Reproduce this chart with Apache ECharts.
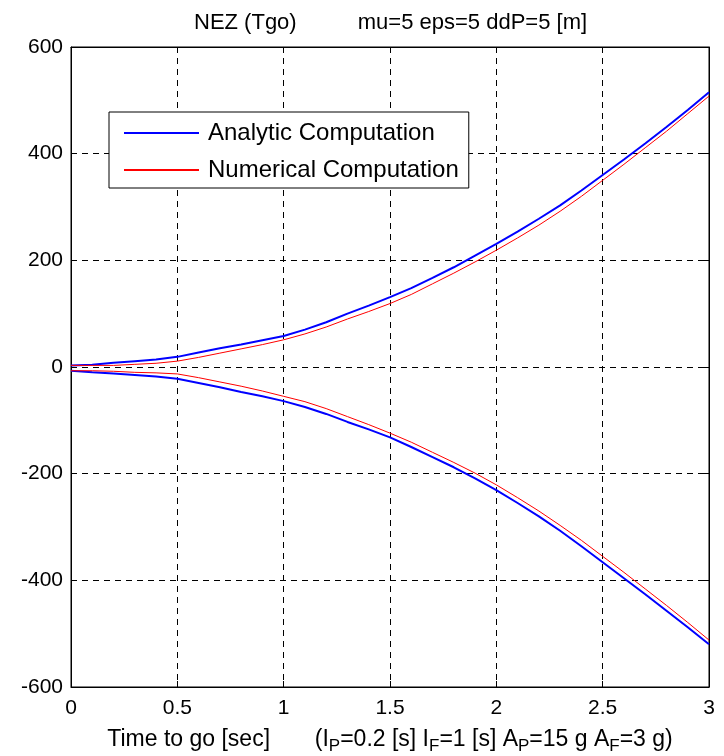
<!DOCTYPE html>
<html>
<head>
<meta charset="utf-8">
<script src="https://cdn.jsdelivr.net/npm/echarts@6/dist/echarts.min.js"></script>
<style>html,body{margin:0;padding:0;background:#fff}#c{width:724px;height:756px}</style>
</head>
<body>
<div id="c"></div>
<script>
// time to go [sec]
var tgo = [0,0.1,0.2,0.3,0.4,0.5,0.6,0.7,0.8,0.9,1.0,1.1,1.2,1.3,1.4,1.5,1.6,1.7,1.8,1.9,2.0,2.1,2.2,2.3,2.4,2.5,2.6,2.7,2.8,2.9,3.0];
// Analytic computation (upper / lower branch)
var analyticUpper = [3,4,8,11,14,19,27,35,42,50,58,70,84,100,115,131,148,167,187,209,231,254,278,303,331,360,389,419,450,482,515];
var analyticLower = [-7,-10,-12,-15,-18,-22,-30,-38,-47,-55,-64,-75,-88,-103,-117,-132,-150,-169,-188,-209,-231,-255,-280,-307,-336,-366,-396,-426,-457,-488,-520];
// Numerical computation (upper / lower branch)
var numericUpper = [3,3,3,5,7,11,18,26,34,42,51,62,75,90,104,119,136,156,176,197,219,242,266,292,320,350,380,411,442,475,508];
var numericLower = [-7,-7,-8,-10,-11,-13,-20,-28,-36,-45,-55,-65,-78,-93,-108,-124,-141,-160,-179,-199,-221,-245,-270,-297,-325,-355,-385,-416,-447,-479,-512];
var xTicks = {min:0, max:3, interval:0.5};
var yTicks = {min:-600, max:600, interval:200};

function pairs(xs, ys){ return xs.map(function(x,i){return [x, ys[i]];}); }

var FONT = '"Liberation Sans", Arial, sans-serif';
var chart = echarts.init(document.getElementById('c'), null, {renderer:'canvas'});
var dash = {color:'#000', width:1, type:[6,5]};
var lineSeries = function(name, data, color, width){
  return {name:name, type:'line', symbol:'none',
    data:data, lineStyle:{color:color, width:width}, itemStyle:{color:color}};
};
chart.setOption({
  animation:false,
  backgroundColor:'#fff',
  textStyle:{fontFamily:FONT},
  title:{
    text:'NEZ (Tgo)          mu=5 eps=5 ddP=5 [m]',
    left:189, top:7,
    textStyle:{fontFamily:FONT, fontSize:22, fontWeight:'normal', color:'#000'}
  },
  grid:{left:71, right:15, top:47, bottom:69, outerBoundsMode:'none', containLabel:false,
    show:true, borderColor:'#000', borderWidth:1, backgroundColor:'#fff'},
  legend:{
    left:109, top:112, orient:'vertical',
    data:['Analytic Computation','Numerical Computation'],
    backgroundColor:'#fff', borderColor:'#000', borderWidth:1,
    padding:[9,10,6,14],
    itemWidth:75, itemHeight:14, itemGap:13,
    itemStyle:{opacity:0},
    textStyle:{fontFamily:FONT, fontSize:24, color:'#000', padding:[0,0,0,4]}
  },
  xAxis:[{
    type:'value', min:xTicks.min, max:xTicks.max, interval:xTicks.interval,
    axisLine:{show:true, onZero:false, lineStyle:{color:'#000'}},
    axisTick:{show:true, inside:true, length:6, lineStyle:{color:'#000'}},
    axisLabel:{color:'#000', fontSize:21, fontFamily:FONT, margin:11},
    splitLine:{show:true, lineStyle:dash},
    name:'Time to go [sec]       (I{sub|P}=0.2 [s] I{sub|F}=1 [s] A{sub|P}=15 g A{sub|F}=3 g)',
    nameLocation:'middle', nameGap:38,
    nameTextStyle:{color:'#000', fontSize:23, fontFamily:FONT, lineHeight:30,
      rich:{sub:{fontSize:17, fontFamily:FONT, color:'#000', padding:[13,0,0,0]}}}
  },{
    type:'value', position:'top', min:xTicks.min, max:xTicks.max, interval:xTicks.interval,
    axisLine:{show:true, onZero:false, lineStyle:{color:'#000'}},
    axisTick:{show:true, inside:true, length:6, lineStyle:{color:'#000'}},
    axisLabel:{show:false}, splitLine:{show:false}
  }],
  yAxis:[{
    type:'value', min:yTicks.min, max:yTicks.max, interval:yTicks.interval,
    axisLine:{show:true, onZero:false, lineStyle:{color:'#000'}},
    axisTick:{show:true, inside:true, length:6, lineStyle:{color:'#000'}},
    axisLabel:{color:'#000', fontSize:21, fontFamily:FONT, margin:8},
    splitLine:{show:true, lineStyle:dash}
  },{
    type:'value', position:'right', min:yTicks.min, max:yTicks.max, interval:yTicks.interval,
    axisLine:{show:true, onZero:false, lineStyle:{color:'#000'}},
    axisTick:{show:true, inside:true, length:6, lineStyle:{color:'#000'}},
    axisLabel:{show:false}, splitLine:{show:false}
  }],
  series:[
    lineSeries('Analytic Computation', pairs(tgo, analyticUpper), '#0000ff', 2),
    lineSeries('Analytic Computation', pairs(tgo, analyticLower), '#0000ff', 2),
    lineSeries('Numerical Computation', pairs(tgo, numericUpper), '#ff0000', 1),
    lineSeries('Numerical Computation', pairs(tgo, numericLower), '#ff0000', 1)
  ]
});
</script>
</body>
</html>
